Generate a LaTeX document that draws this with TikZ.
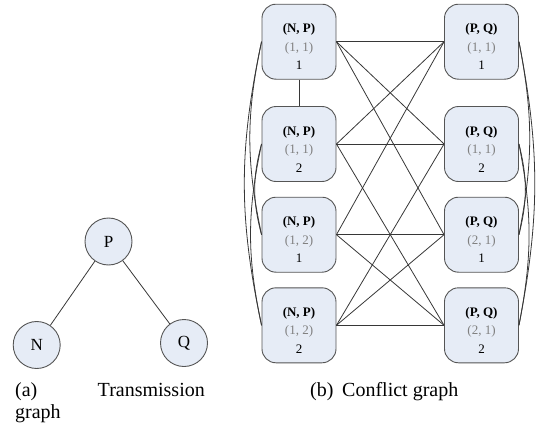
\documentclass[tikz,border=0pt]{standalone}
\usepackage{fontspec}
\setmainfont{Liberation Serif}
\definecolor{boxfill}{RGB}{230,236,246}
\definecolor{boxline}{RGB}{85,85,85}
\definecolor{linecol}{RGB}{55,55,55}
\definecolor{midgray}{RGB}{128,128,128}
\begin{document}
\begin{tikzpicture}[x=1pt,y=-1pt,
  cbox/.style={draw=boxline, fill=boxfill, rounded corners=14pt,
    minimum width=74pt, minimum height=75pt, inner sep=0pt, line width=0.9pt},
  lbl/.style={align=center, font=\fontsize{13}{18.5}\selectfont, inner sep=0pt},
  cnode/.style={circle, draw=boxline, fill=boxfill, minimum size=47pt,
    inner sep=0pt, line width=0.9pt, font=\fontsize{17}{17}\selectfont},
  link/.style={draw=linecol, line width=0.8pt},
  captxt/.style={font=\fontsize{20}{22}\selectfont, inner sep=0pt}]
\useasboundingbox (0,0) rectangle (536,431);

% conflict graph vertices
\foreach \n/\y in {1/41.7, 2/144, 3/234.7, 4/325.3} {
  \node[cbox] (np\n) at (299,\y) {};
  \node[cbox] (pq\n) at (481.5,\y) {};
}
% edges between the two columns
\foreach \a/\b in {1/1,1/2,1/3,2/1,2/2,2/4,3/1,3/3,3/4,4/2,4/3,4/4}
  \draw[link] (np\a.east) -- (pq\b.west);
\draw[link] (np1.south) -- (np2.north);
% arcs within each column
\draw[link] (np1.west) to[bend right=12] (np4.west);
\draw[link] (np1.west) to[bend right=12] (np3.west);
\draw[link] (np2.west) to[bend right=12] (np4.west);
\draw[link] (np2.west) to[bend right=15] (np3.west);
\draw[link] (pq1.east) to[bend left=11] (pq4.east);
\draw[link] (pq1.east) to[bend left=11] (pq3.east);
\draw[link] (pq2.east) to[bend left=11] (pq4.east);
\draw[link] (pq2.east) to[bend left=14] (pq3.east);

% vertex labels
\node[lbl] (tnp1) at ([yshift=-5pt]np1.center) {\textbf{(N, P)}\\{\color{midgray}(1, 1)}\\1};
\node[lbl] (tnp2) at ([yshift=-5pt]np2.center) {\textbf{(N, P)}\\{\color{midgray}(1, 1)}\\2};
\node[lbl] (tnp3) at ([yshift=-5pt]np3.center) {\textbf{(N, P)}\\{\color{midgray}(1, 2)}\\1};
\node[lbl] (tnp4) at ([yshift=-5pt]np4.center) {\textbf{(N, P)}\\{\color{midgray}(1, 2)}\\2};
\node[lbl] (tpq1) at ([yshift=-5pt]pq1.center) {\textbf{(P, Q)}\\{\color{midgray}(1, 1)}\\1};
\node[lbl] (tpq2) at ([yshift=-5pt]pq2.center) {\textbf{(P, Q)}\\{\color{midgray}(1, 1)}\\2};
\node[lbl] (tpq3) at ([yshift=-5pt]pq3.center) {\textbf{(P, Q)}\\{\color{midgray}(2, 1)}\\1};
\node[lbl] (tpq4) at ([yshift=-5pt]pq4.center) {\textbf{(P, Q)}\\{\color{midgray}(2, 1)}\\2};

% transmission graph
\node[cnode] (P) at (108.5,241.5) {P};
\node[cnode] (N) at (36.7,345) {N};
\node[cnode] (Q) at (184,343) {Q};
\draw[link] (P) -- (N);
\draw[link] (P) -- (Q);

% captions
\node[captxt, anchor=base west] (capa1) at (15,396) {(a)};
\node[captxt, anchor=base east] (capa2) at (205,396) {Transmission};
\node[captxt, anchor=base west] (capa3) at (15,418) {graph};
\node[captxt, anchor=base west] (capb1) at (310,396) {(b)};
\node[captxt, anchor=base west] (capb2) at (342,396) {Conflict graph};
\end{tikzpicture}
\end{document}
